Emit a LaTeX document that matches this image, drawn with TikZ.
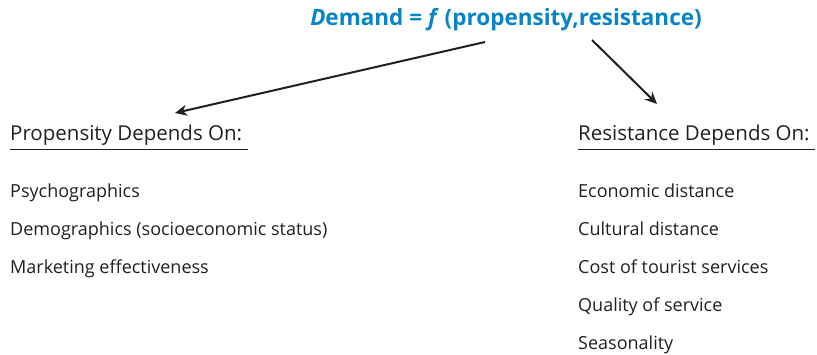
\documentclass[tikz,border=0pt]{standalone}
\usepackage{fontspec}
\setmainfont{Open Sans}
\usetikzlibrary{arrows.meta}
\definecolor{titleblue}{HTML}{0A84C6}
\definecolor{ink}{HTML}{231F20}
\tikzset{
  head/.style={anchor=base west, inner sep=0pt, text=ink, font=\fontsize{20.5}{22}\selectfont},
  item/.style={anchor=base west, inner sep=0pt, text=ink, font=\fontsize{18}{20}\selectfont},
  rule/.style={draw=ink, line width=1pt},
  conn/.style={draw=ink, line width=2pt, -{Stealth[length=12pt,width=11pt]}}
}
\begin{document}
\begin{tikzpicture}[x=1pt,y=-1pt]
\useasboundingbox (0,0) rectangle (817,355);
\node[anchor=center, inner sep=0pt, text=titleblue, font=\fontsize{22.5}{26}\selectfont\bfseries] (title) at (506,20)
  {\textit{D}emand = \textit{f} (propensity,resistance)};
\coordinate (s1) at (485,42);
\coordinate (s2) at (592,40);
\coordinate (e1) at (175,113);
\coordinate (e2) at (657,104);
\draw[conn] (s1) -- (e1);
\draw[conn] (s2) -- (e2);
\node[head] (ph) at (10,141) {Propensity Depends On:};
\node[head] (rh) at (578,141) {Resistance Depends On:};
\coordinate (pl1) at (10,150); \coordinate (pl2) at (248,150);
\coordinate (rl1) at (578,150); \coordinate (rl2) at (815,150);
\draw[rule] (pl1) -- (pl2);
\draw[rule] (rl1) -- (rl2);
\node[item] (p1) at (10,198) {Psychographics};
\node[item] (p2) at (10,236) {Demographics (socioeconomic status)};
\node[item] (p3) at (10,274) {Marketing effectiveness};
\node[item] (r1) at (578,198) {Economic distance};
\node[item] (r2) at (578,236) {Cultural distance};
\node[item] (r3) at (578,274) {Cost of tourist services};
\node[item] (r4) at (578,312) {Quality of service};
\node[item] (r5) at (578,350) {Seasonality};
\end{tikzpicture}
\end{document}
